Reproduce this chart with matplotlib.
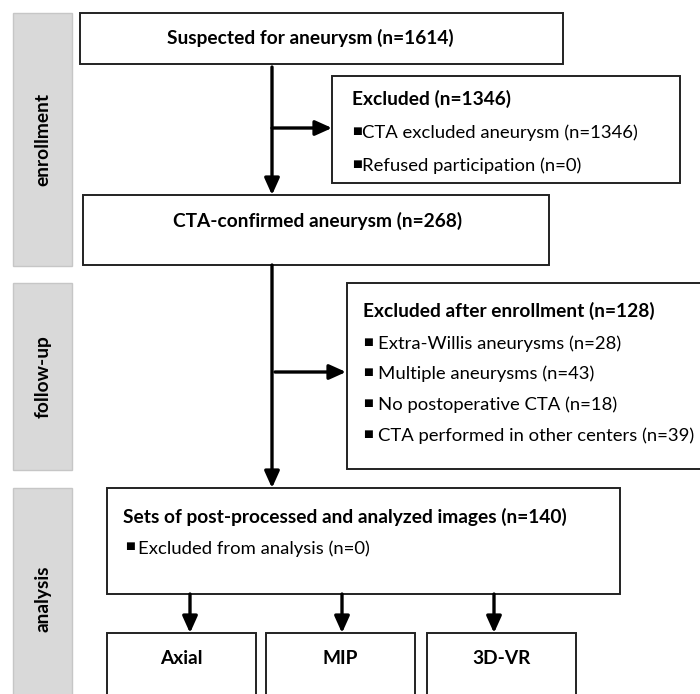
import matplotlib

matplotlib.use("Agg", force=True)
import matplotlib.pyplot as plt
from matplotlib.patches import Rectangle

plt.rcParams["font.family"] = ["Lato", "DejaVu Sans"]

# ---- content -------------------------------------------------------------
stages = ["enrollment", "follow-up", "analysis"]
n_suspected = 1614
n_confirmed = 268
n_analyzed = 140
excluded_title = "Excluded (n=1346)"
excluded_items = ["CTA excluded aneurysm (n=1346)", "Refused participation (n=0)"]
after_title = "Excluded after enrollment (n=128)"
after_items = [
    "Extra-Willis aneurysms (n=28)",
    "Multiple aneurysms (n=43)",
    "No postoperative CTA (n=18)",
    "CTA performed in other centers (n=39)",
]
analysis_items = ["Excluded from analysis (n=0)"]
methods = ["Axial", "MIP", "3D-VR"]

FS = 13.3   # regular text
FSB = 13.8  # bold text
BULLET = "\u25a0"


def box(ax, x0, y0, x1, y1):
    ax.add_patch(Rectangle((x0, y0), x1 - x0, y1 - y0, facecolor="white",
                           edgecolor="#222222", lw=1.4, zorder=2))


def arrow(ax, x0, y0, x1, y1):
    ax.annotate("", xy=(x1, y1), xytext=(x0, y0),
                arrowprops=dict(arrowstyle="-|>,head_width=0.45,head_length=1.0",
                                color="black", lw=2.4, shrinkA=0, shrinkB=0),
                zorder=3)


def bold(ax, x, y, s, **kw):
    kw.setdefault("ha", "left")
    ax.text(x, y, s, fontsize=FSB, fontweight="bold", va="center", zorder=4, **kw)


def bullet_list(ax, xb, xt, ys, items):
    for y, s in zip(ys, items):
        # square sits a little above the text centre, as in the original
        ax.text(xb, y - 2, BULLET, fontsize=7.5, va="center", ha="left", zorder=4)
        ax.text(xt, y, s, fontsize=FS, va="center", ha="left", zorder=4)


def main() -> None:
    fig = plt.figure(figsize=(7.0, 6.94), dpi=100)
    ax = fig.add_axes([0, 0, 1, 1])
    ax.set_xlim(0, 700)
    ax.set_ylim(694, 0)
    ax.axis("off")

    # stage side bars
    bars = [(13, 266), (283, 470), (488, 700)]
    label_y = [139, 377, 599]
    for (y0, y1), ly, name in zip(bars, label_y, stages):
        ax.add_patch(Rectangle((13, y0), 59, y1 - y0, facecolor="#d9d9d9",
                               edgecolor="#c6c6c6", lw=1.0, zorder=1))
        bold(ax, 43, ly, name, rotation=90, ha="center")

    # top box
    box(ax, 80, 13, 563, 64)
    bold(ax, 167, 38, f"Suspected for aneurysm (n={n_suspected})")

    # excluded box
    box(ax, 332, 76, 680, 183)
    bold(ax, 352, 99, excluded_title)
    bullet_list(ax, 352, 362, [133, 166], excluded_items)

    # main flow, part 1
    arrow(ax, 272, 67, 272, 195)
    arrow(ax, 272, 128, 332, 128)

    # confirmed box
    box(ax, 83, 195, 549, 265)
    bold(ax, 173, 221, f"CTA-confirmed aneurysm (n={n_confirmed})")

    # excluded after enrollment
    box(ax, 347, 283, 705, 469)
    bold(ax, 363, 311, after_title)
    bullet_list(ax, 363, 378, [344, 374, 405, 436], after_items)

    # main flow, part 2
    arrow(ax, 272, 265, 272, 488)
    arrow(ax, 275, 372, 346, 372)

    # analysis box
    box(ax, 107, 488, 620, 594)
    bold(ax, 123, 517, f"Sets of post-processed and analyzed images (n={n_analyzed})")
    bullet_list(ax, 125, 138, [549], analysis_items)

    # method boxes
    method_spans = [(107, 256), (266, 415), (427, 576)]
    arrow_x = [190, 342, 494]
    for (x0, x1), ax_x, name in zip(method_spans, arrow_x, methods):
        arrow(ax, ax_x, 594, ax_x, 633)
        box(ax, x0, 633, x1, 705)
        bold(ax, (x0 + x1) / 2, 658, name, ha="center")

    fig.savefig("out.png", dpi=100)
    plt.close(fig)


if __name__ == "__main__":
    main()
